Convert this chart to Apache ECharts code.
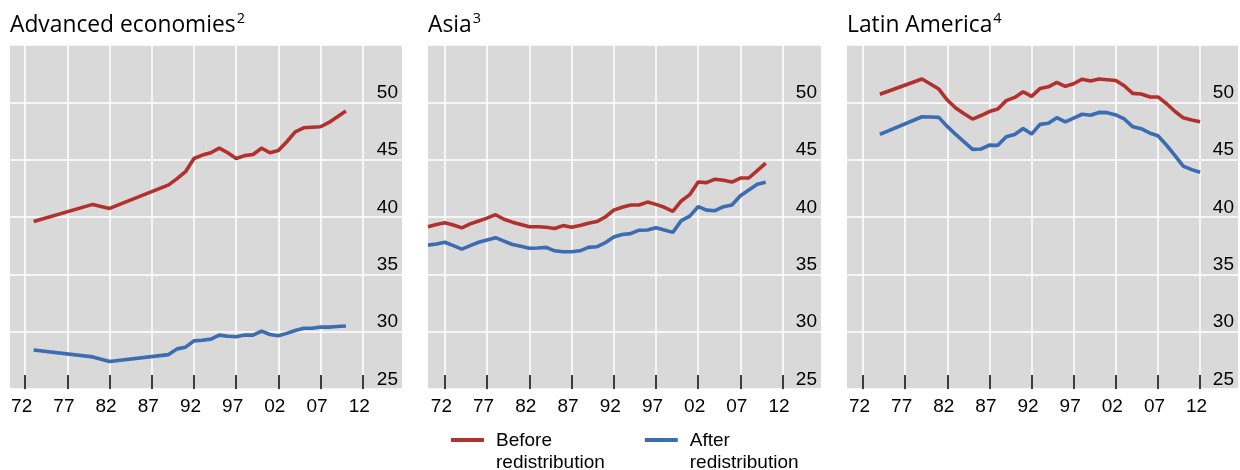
<!DOCTYPE html>
<html>
<head>
<meta charset="utf-8">
<script src="https://cdn.jsdelivr.net/npm/echarts@6/dist/echarts.min.js"></script>
<style>
html,body{margin:0;padding:0;background:#fff;}
#c{width:1240px;height:470px;}
</style>
</head>
<body>
<div id="c"></div>
<script>
// ---- Data ----
const panelTitles = ['Advanced economies', 'Asia', 'Latin America'];
const panelNotes = ['2', '3', '4'];
const seriesNames = ['Before\nredistribution', 'After\nredistribution'];
const xTickYears = [1972, 1977, 1982, 1987, 1992, 1997, 2002, 2007, 2012];

const advYears = [1973,1980,1982,1989,1990,1991,1992,1993,1994,1995,1996,1997,1998,1999,2000,2001,2002,2003,2004,2005,2006,2007,2008,2009,2010];
const advBefore = [39.6,41.1,40.75,42.8,43.35,43.95,45.1,45.4,45.6,46.0,45.6,45.1,45.35,45.45,46.0,45.6,45.8,46.56,47.43,47.78,47.83,47.87,48.25,48.74,49.24];
const advAfter = [28.4,27.8,27.4,28.0,28.5,28.65,29.2,29.25,29.35,29.7,29.6,29.55,29.7,29.7,30.05,29.75,29.65,29.85,30.1,30.3,30.3,30.4,30.4,30.45,30.5];

const asiaYears = [1970,1971,1972,1973,1974,1975,1976,1977,1978,1979,1980,1981,1982,1983,1984,1985,1986,1987,1988,1989,1990,1991,1992,1993,1994,1995,1996,1997,1998,1999,2000,2001,2002,2003,2004,2005,2006,2007,2008,2009,2010];
const asiaBefore = [39.15,39.35,39.5,39.3,39.05,39.4,39.65,39.9,40.2,39.8,39.55,39.35,39.15,39.15,39.1,39.0,39.25,39.1,39.25,39.45,39.6,40.0,40.6,40.85,41.05,41.05,41.3,41.1,40.85,40.5,41.4,41.95,43.05,43.0,43.3,43.2,43.05,43.4,43.4,44.05,44.7];
const asiaAfter = [37.55,37.65,37.8,37.5,37.2,37.5,37.8,38.0,38.2,37.9,37.6,37.45,37.27,37.3,37.35,37.05,36.97,36.97,37.05,37.35,37.4,37.76,38.25,38.47,38.55,38.85,38.86,39.06,38.86,38.66,39.68,40.08,40.9,40.6,40.55,40.9,41.04,41.85,42.35,42.85,43.02];

const latYears = [1974,1979,1980,1981,1982,1983,1984,1985,1986,1987,1988,1989,1990,1991,1992,1993,1994,1995,1996,1997,1998,1999,2000,2001,2002,2003,2004,2005,2006,2007,2008,2009,2010,2011,2012];
const latBefore = [50.7,52.03,51.6,51.16,50.2,49.5,49.0,48.54,48.85,49.2,49.41,50.15,50.43,50.92,50.52,51.2,51.35,51.74,51.4,51.62,52.02,51.85,52.03,51.97,51.9,51.45,50.78,50.72,50.48,50.47,49.9,49.22,48.65,48.45,48.3];
const latAfter = [47.2,48.74,48.72,48.69,47.9,47.2,46.55,45.9,45.93,46.27,46.25,47.0,47.2,47.72,47.23,48.08,48.17,48.66,48.3,48.63,48.96,48.87,49.12,49.1,48.9,48.55,47.88,47.7,47.33,47.08,46.28,45.38,44.43,44.13,43.9];

// ---- Layout / style ----
const RED = '#b2302d', BLUE = '#3c6cb2';
const numFont = 'Liberation Sans';
const panels = [
  {left: 10, width: 392, min: 1970.2, max: 2016.65, years: advYears, before: advBefore, after: advAfter},
  {left: 428, width: 393, min: 1970, max: 2016.55, years: asiaYears, before: asiaBefore, after: asiaAfter},
  {left: 847, width: 391, min: 1970.1, max: 2016.5, years: latYears, before: latBefore, after: latAfter}
];

const grids = [], xAxes = [], yAxes = [], series = [], titles = [];
panels.forEach((p, i) => {
  grids.push({left: p.left, width: p.width, top: 45, height: 344, show: true,
    backgroundColor: '#d9d9d9', borderWidth: 0, containLabel: false});
  xAxes.push({
    type: 'value', gridIndex: i, min: p.min, max: p.max,
    axisLine: {show: false},
    axisTick: {show: true, inside: true, length: 14, customValues: xTickYears,
      lineStyle: {color: '#000', width: 1.5}},
    axisLabel: {customValues: xTickYears, margin: 8, fontSize: 19, fontFamily: numFont,
      color: '#000', padding: [0, 7, 0, 0],
      formatter: v => String(Math.round(v) % 100).padStart(2, '0')},
    splitLine: {show: true, lineStyle: {color: '#ffffff', width: 1.5}}
  });
  yAxes.push({
    type: 'value', gridIndex: i, position: 'right', min: 25, max: 55, interval: 5,
    axisLine: {show: false}, axisTick: {show: false},
    axisLabel: {inside: true, margin: 4, verticalAlign: 'bottom', fontSize: 19,
      fontFamily: numFont, color: '#000',
      formatter: v => (v >= 55 ? '' : String(v))},
    splitLine: {show: true, lineStyle: {color: '#ffffff', width: 1.5}}
  });
  [[p.before, RED, seriesNames[0]], [p.after, BLUE, seriesNames[1]]].forEach(([vals, col, nm]) => {
    series.push({
      type: 'line', name: nm, xAxisIndex: i, yAxisIndex: i,
      data: p.years.map((y, k) => [y, vals[k]]),
      symbol: 'none', showSymbol: false, color: col,
      lineStyle: {color: col, width: 3.6}, itemStyle: {color: col},
      animation: false, silent: true
    });
  });
  titles.push({
    left: p.left, top: 11, padding: 0,
    text: '{a|' + panelTitles[i] + '}{s|' + panelNotes[i] + '}',
    textStyle: {fontWeight: 'normal', rich: {
      a: {fontFamily: 'Open Sans', fontSize: 22.8, fontWeight: 'normal', lineHeight: 29, color: '#000'},
      s: {fontFamily: 'Open Sans', fontSize: 14.5, fontWeight: 'normal', lineHeight: 17, color: '#000', verticalAlign: 'top', padding: [0, 0, 0, 1]}
    }}
  });
});

const legendIcon = 'path://M0,0L33,0L33,4L0,4Z M0,28L0,28.01';
const chart = echarts.init(document.getElementById('c'), null, {renderer: 'canvas'});
chart.setOption({
  animation: false,
  title: titles,
  grid: grids,
  xAxis: xAxes,
  yAxis: yAxes,
  series: series,
  legend: {
    left: 451, top: 430.5, padding: 0, orient: 'horizontal',
    itemWidth: 33, itemHeight: 28, itemGap: 40, selectedMode: false,
    symbolKeepAspect: false,
    itemStyle: {borderWidth: 0},
    data: [
      {name: seriesNames[0], icon: legendIcon, itemStyle: {color: RED, borderWidth: 0}},
      {name: seriesNames[1], icon: legendIcon, itemStyle: {color: BLUE, borderWidth: 0}}
    ],
    textStyle: {fontFamily: numFont, fontSize: 19, lineHeight: 21.5, color: '#000', padding: [0, 0, 0, 7]}
  }
});
</script>
</body>
</html>
